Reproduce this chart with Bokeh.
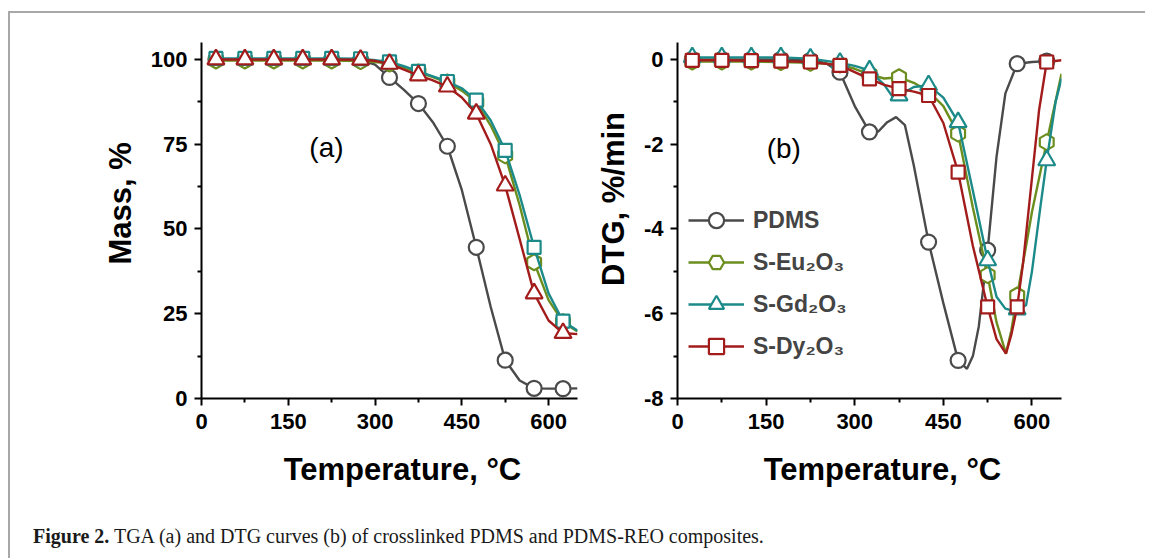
import math
from bokeh.plotting import figure
from bokeh.models import FixedTicker, Label, Legend, LegendItem, Div, Range1d
from bokeh.layouts import row, column
from bokeh.embed import file_html
from bokeh.resources import INLINE

# ---------------- data ----------------
series_names = ["PDMS", "S-Eu\u2082O\u2083", "S-Gd\u2082O\u2083", "S-Dy\u2082O\u2083"]
marker_temps = [25, 75, 125, 175, 225, 275, 325, 375, 425, 475, 525, 575, 625]

# (a) TGA, mass %
tga_temp = [25, 75, 125, 175, 225, 275, 300, 325, 350, 375, 400, 425, 450, 475,
            500, 525, 550, 575, 600, 625, 650]
tga_pdms = [100, 100, 100, 100, 100, 99.8, 98.5, 94.7, 91.0, 87.0, 81.5, 74.4, 61.5, 44.6,
            27.0, 11.3, 5.3, 3.0, 2.9, 2.9, 3.0]
tga_eu = [99.7, 99.7, 99.7, 99.7, 99.7, 99.5, 99.2, 98.8, 97.6, 96.2, 94.8, 93.2, 90.8, 87.4,
          80.5, 71.7, 57.0, 40.2, 29.0, 22.5, 19.8]
tga_gd = [100.3, 100.3, 100.3, 100.3, 100.3, 100.2, 99.8, 99.3, 98.0, 96.5, 95.0, 93.5, 91.5, 88.0,
          82.0, 73.2, 60.0, 44.6, 31.0, 22.8, 20.0]
tga_dy = [100, 100, 100, 100, 100, 99.9, 99.6, 98.7, 97.0, 95.3, 93.8, 92.0, 88.8, 84.0,
          75.0, 62.8, 47.0, 31.0, 23.0, 19.3, 19.0]

# (b) DTG, %/min
dtg_pdms_t = [25, 75, 125, 175, 225, 250, 275, 300, 325, 340, 355, 370, 385, 400, 425, 450,
              475, 490, 500, 510, 525, 540, 555, 575, 600, 625]
dtg_pdms = [0, 0, 0, 0, -0.02, -0.08, -0.30, -1.1, -1.71, -1.70, -1.48, -1.36, -1.55, -2.5,
            -4.31, -5.75, -7.10, -7.30, -7.0, -6.3, -4.5, -2.3, -0.8, -0.1, -0.06, -0.04]
dtg_eu_t = [25, 75, 125, 175, 225, 275, 300, 325, 350, 375, 400, 425, 450, 475, 500, 525,
            540, 556, 565, 575, 590, 600, 625, 650]
dtg_eu = [-0.05, -0.05, -0.05, -0.06, -0.08, -0.12, -0.22, -0.35, -0.45, -0.42, -0.55, -0.75,
          -1.1, -1.75, -3.5, -5.09, -6.2, -6.94, -6.4, -5.57, -4.4, -3.6, -1.95, -0.34]
dtg_gd_t = [25, 75, 125, 175, 225, 275, 300, 325, 350, 365, 375, 400, 425, 450, 475, 500,
            525, 540, 555, 566, 575, 590, 600, 615, 625, 640, 650]
dtg_gd = [0.05, 0.05, 0.05, 0.05, 0.02, -0.08, -0.15, -0.26, -0.6, -0.9, -0.85, -0.65, -0.61,
          -0.9, -1.48, -3.1, -4.74, -5.6, -5.88, -5.92, -5.9, -5.8, -5.0, -3.4, -2.38, -1.0, -0.45]
dtg_dy_t = [25, 75, 125, 175, 225, 275, 300, 325, 350, 375, 400, 425, 450, 475, 500, 525,
            540, 556, 565, 575, 585, 600, 612, 625, 650]
dtg_dy = [-0.02, -0.02, -0.03, -0.04, -0.06, -0.14, -0.3, -0.46, -0.6, -0.69, -0.76, -0.85,
          -1.5, -2.66, -4.4, -5.84, -6.6, -6.94, -6.5, -5.84, -4.8, -2.8, -1.2, -0.06, -0.02]

x_ticks = [0, 150, 300, 450, 600]
x_minor = [75, 225, 375, 525]
tga_ticks = [0, 25, 50, 75, 100]
tga_minor = [12.5, 37.5, 62.5, 87.5]
dtg_ticks = [-8, -6, -4, -2, 0]
dtg_minor = [-7, -5, -3, -1]

x_label = "Temperature, \u00b0C"
tga_label = "Mass, %"
dtg_label = "DTG, %/min"
caption_bold = "Figure 2."
caption_rest = "TGA (a) and DTG curves (b) of crosslinked PDMS and PDMS-REO composites."

# ---------------- styles ----------------
colors = ["#4a4a4a", "#6b8e1f", "#1d8a8a", "#a31c1c"]
FONT = "Liberation Sans"
NB = "\u00a0"


def pick(ts, vs):
    return [v for t, v in zip(ts, vs) if t in marker_temps]


def style(p, yticks, yminor, ylabel, ypad):
    p.grid.visible = False
    p.outline_line_color = None
    p.background_fill_color = "white"
    p.border_fill_color = "white"
    p.xaxis.ticker = FixedTicker(ticks=x_ticks, minor_ticks=x_minor)
    p.yaxis.ticker = FixedTicker(ticks=yticks, minor_ticks=yminor)
    p.yaxis.major_label_overrides = {t: str(t) for t in yticks}
    p.xaxis.major_label_overrides = {t: str(t) for t in x_ticks}
    for ax in p.axis:
        ax.axis_line_width = 2
        ax.axis_line_color = "black"
        ax.major_tick_line_width = 2
        ax.minor_tick_line_width = 2
        ax.major_tick_in = 0
        ax.major_tick_out = 7
        ax.minor_tick_in = 0
        ax.minor_tick_out = 4
        ax.major_label_text_font = FONT
        ax.major_label_text_font_style = "bold"
        ax.major_label_text_font_size = "22px"
        ax.major_label_text_color = "black"
        ax.axis_label_text_font = FONT
        ax.axis_label_text_font_style = "bold"
        ax.axis_label_text_font_size = "31px"
        ax.axis_label_text_color = "black"
    p.xaxis.axis_label = NB * 3 + x_label
    p.xaxis.major_label_standoff = 8
    p.xaxis.axis_label_standoff = 20
    p.yaxis.axis_label = NB * ypad + ylabel
    p.yaxis.major_label_standoff = 7
    p.yaxis.axis_label_standoff = 10


def add_series(p, t, v, marker, color, size, angle=0.0):
    r_line = p.line(t, v, line_color=color, line_width=2.4)
    xs = [tt for tt in t if tt in marker_temps]
    ys = pick(t, v)
    r_pts = p.scatter(xs, ys, marker=marker, size=size, angle=angle,
                      fill_color="white", line_color=color, line_width=2.2)
    return r_line, r_pts


FH = 356
# ---------------- panel (a) ----------------
pa = figure(frame_width=376, frame_height=FH, x_range=Range1d(0, 650), y_range=Range1d(0, 105),
            min_border_left=191, min_border_right=13, min_border_top=29, min_border_bottom=100,
            output_backend="svg", toolbar_location=None)
style(pa, tga_ticks, tga_minor, tga_label, 4)
add_series(pa, tga_temp, tga_pdms, "circle", colors[0], 15)
add_series(pa, tga_temp, tga_eu, "hex", colors[1], 16, math.pi / 6)
add_series(pa, tga_temp, tga_gd, "square", colors[2], 13)
add_series(pa, tga_temp, tga_dy, "triangle", colors[3], 17)
pa.add_layout(Label(x=216, y=74, text="(a)", text_align="center", text_baseline="middle",
                    text_font=FONT, text_font_size="28px", text_color="black"))

# ---------------- panel (b) ----------------
pb = figure(frame_width=384, frame_height=FH, x_range=Range1d(0, 650), y_range=Range1d(-8, 0.4),
            min_border_left=87, min_border_right=84, min_border_top=29, min_border_bottom=100,
            output_backend="svg", toolbar_location=None)
style(pb, dtg_ticks, dtg_minor, dtg_label, 5)
rb = [
    add_series(pb, dtg_pdms_t, dtg_pdms, "circle", colors[0], 15),
    add_series(pb, dtg_eu_t, dtg_eu, "hex", colors[1], 16, math.pi / 6),
    add_series(pb, dtg_gd_t, dtg_gd, "triangle", colors[2], 17),
    add_series(pb, dtg_dy_t, dtg_dy, "square", colors[3], 13),
]
pb.add_layout(Label(x=180, y=-2.1, text="(b)", text_align="center", text_baseline="middle",
                    text_font=FONT, text_font_size="28px", text_color="black"))

legend = Legend(items=[LegendItem(label=n, renderers=list(r)) for n, r in zip(series_names, rb)],
                location=(11, 33), padding=0, margin=0, spacing=4,
                glyph_width=56, glyph_height=38, label_height=38, label_standoff=9,
                label_text_font=FONT, label_text_font_style="bold", label_text_font_size="23px",
                border_line_alpha=0, background_fill_alpha=0)
pb.add_layout(legend)

cap = Div(text=('<div style="font-family:\'Liberation Serif\',serif;font-size:20px;color:#1a1a1a;'
                'padding:19px 0 0 18px;white-space:nowrap;"><b>' + caption_bold + '</b> '
                + caption_rest + '</div>'),
          width=1120, height=55)

layout = column(row(pa, pb), cap,
                styles={"border-left": "2px solid #a8a8a8", "border-top": "2px solid #a8a8a8",
                        "margin-top": "11px", "margin-left": "8px"})

open("out.html", "w").write(file_html(layout, INLINE))
